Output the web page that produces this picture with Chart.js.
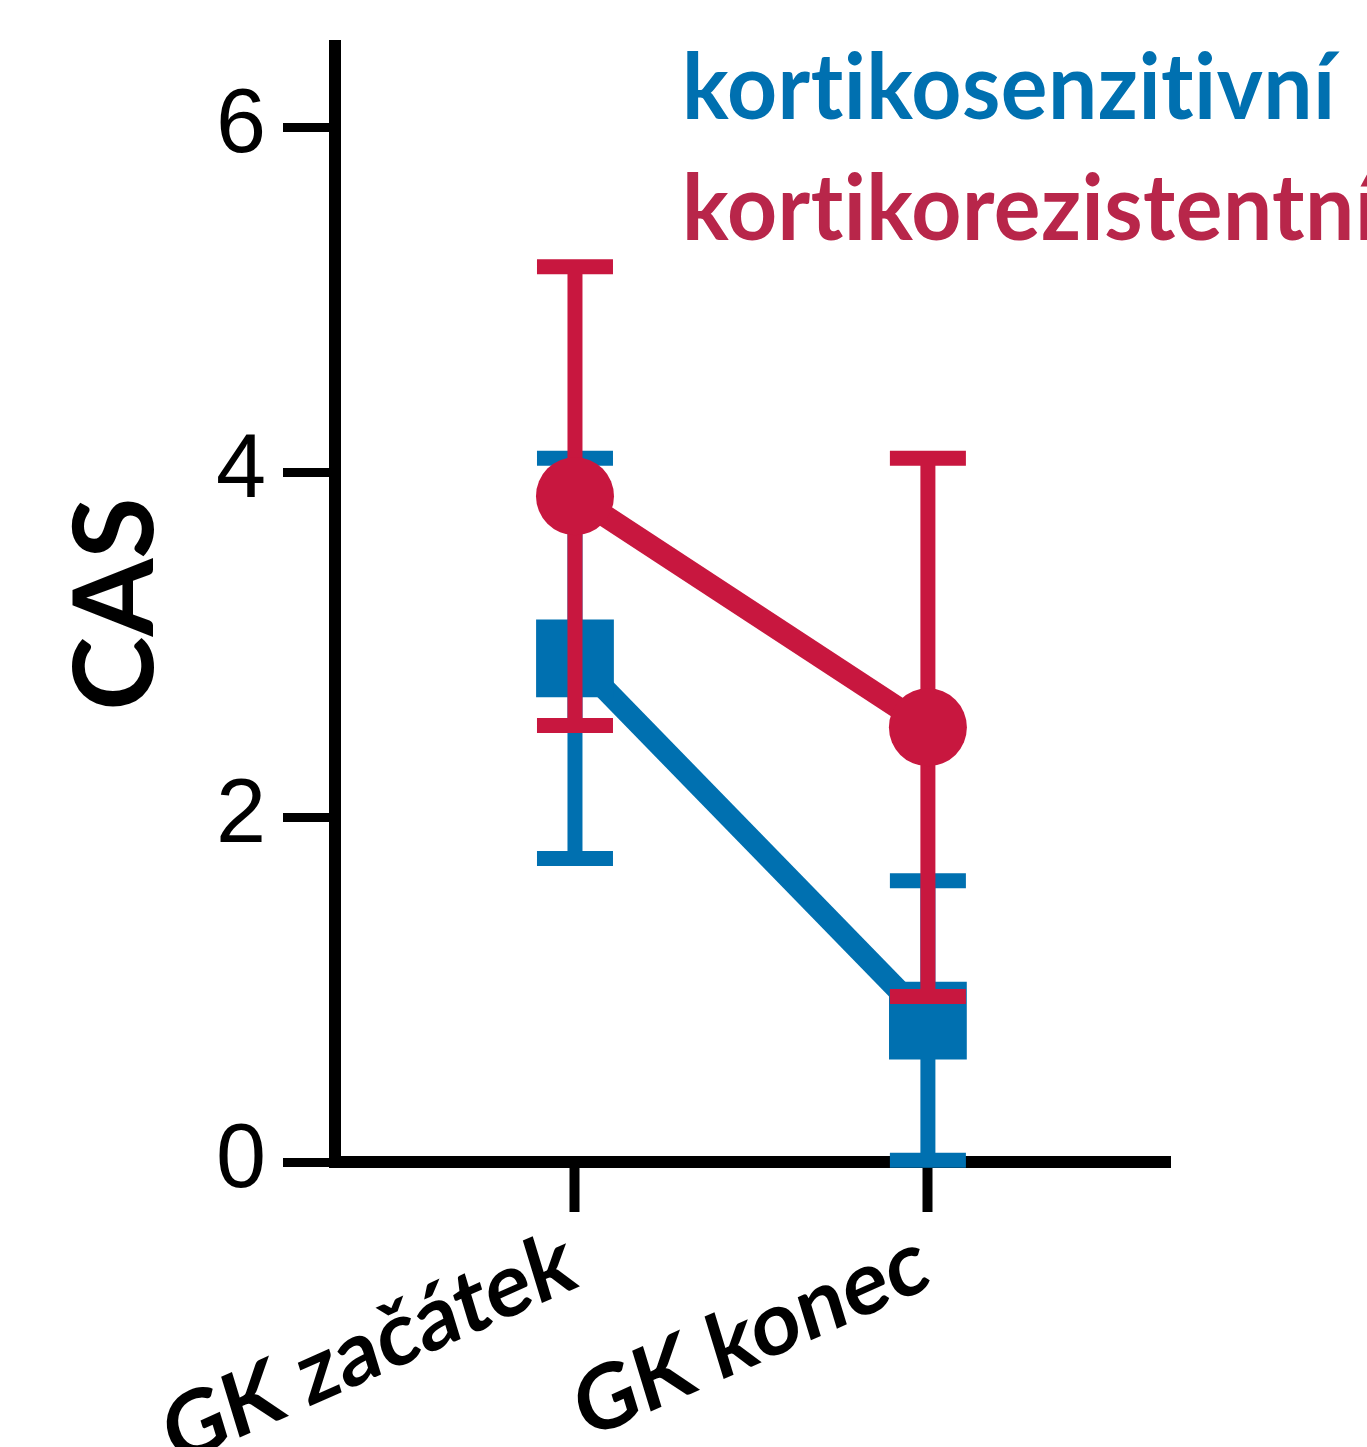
<!DOCTYPE html>
<html>
<head>
<meta charset="utf-8">
<script src="https://cdn.jsdelivr.net/npm/chart.js@4/dist/chart.umd.min.js"></script>
<style>
  html, body { margin: 0; padding: 0; background: #ffffff; }
  #wrap { width: 1367px; height: 1447px; position: relative; }
</style>
</head>
<body>
<div id="wrap"><canvas id="c" width="1367" height="1447"></canvas></div>
<script>
// Categories (time points) and their positions on the x scale
const categories = ['GK začátek', 'GK konec'];
const categoryPos = [1, 2];

// Y axis ticks
const yTicks = [0, 2, 4, 6];

// Series names
const seriesNames = ['kortikosenzitivní', 'kortikorezistentní'];

// Mean CAS and standard deviation per series
const sensitiveMean = [2.92, 0.82];
const sensitiveSD = [1.16, 0.81];
const resistantMean = [3.86, 2.52];
const resistantSD = [1.33, 1.56];

const BLUE = '#0070b0';
const RED = '#c8173f';
const BLUE_TEXT = '#0070b0';
const RED_TEXT = '#b8264a';
const LABEL_FONT = 'Lato, "Open Sans", sans-serif';

const toPoints = (means) => means.map((m, i) => ({ x: categoryPos[i], y: m }));

// Vertical error bars with caps, drawn just before each dataset so layering follows dataset order
const errorBars = {
  id: 'errorBars',
  beforeDatasetDraw(chart, args) {
    const ds = chart.data.datasets[args.index];
    if (!ds.errors) return;
    const xs = chart.scales.x, ys = chart.scales.y, ctx = chart.ctx;
    const half = 38;
    ctx.save();
    ctx.strokeStyle = ds.borderColor;
    ctx.lineWidth = 15;
    ctx.lineCap = 'butt';
    ds.data.forEach((p, i) => {
      const px = xs.getPixelForValue(p.x);
      const top = ys.getPixelForValue(p.y + ds.errors[i]);
      const bot = ys.getPixelForValue(p.y - ds.errors[i]);
      ctx.beginPath();
      ctx.moveTo(px, top); ctx.lineTo(px, bot);
      ctx.moveTo(px - half, top); ctx.lineTo(px + half, top);
      ctx.moveTo(px - half, bot); ctx.lineTo(px + half, bot);
      ctx.stroke();
    });
    ctx.restore();
  }
};

// Coloured series names in the upper right, and slanted category labels under the x axis
const textLabels = {
  id: 'textLabels',
  afterDraw(chart) {
    const ctx = chart.ctx;
    const xs = chart.scales.x;

    // series names
    const legendColors = [BLUE_TEXT, RED_TEXT];
    ctx.save();
    ctx.font = 'bold 92px ' + LABEL_FONT;
    ctx.textRendering = 'optimizeSpeed';
    ctx.letterSpacing = '0.5px';
    ctx.textAlign = 'left';
    ctx.textBaseline = 'alphabetic';
    seriesNames.forEach((name, i) => {
      ctx.save();
      ctx.translate(682, 119 + i * 121);
      ctx.scale(0.95, 1);
      ctx.fillStyle = legendColors[i];
      ctx.fillText(name, 0, 0);
      ctx.restore();
    });
    ctx.restore();

    // category labels: rotated baseline with slightly less slanted strokes
    const a = 24 * Math.PI / 180, b = 17 * Math.PI / 180;
    ctx.save();
    ctx.font = 'bold 88px ' + LABEL_FONT;
    ctx.fillStyle = '#000';
    ctx.textAlign = 'right';
    ctx.textBaseline = 'alphabetic';
    categories.forEach((label, i) => {
      const px = xs.getPixelForValue(categoryPos[i]);
      ctx.save();
      ctx.translate(px + 5, 1286);
      ctx.transform(Math.cos(a), -Math.sin(a), Math.sin(b), Math.cos(b), 0, 0);
      ctx.fillText(label, 0, 0);
      ctx.restore();
    });
    ctx.restore();
  }
};

new Chart(document.getElementById('c'), {
  type: 'line',
  data: {
    datasets: [
      {
        label: seriesNames[1],
        data: toPoints(resistantMean),
        errors: resistantSD,
        borderColor: RED,
        backgroundColor: RED,
        borderWidth: 22,
        pointStyle: 'circle',
        pointRadius: 39,
        pointBorderWidth: 0,
        pointBackgroundColor: RED,
        order: 0,
        clip: false
      },
      {
        label: seriesNames[0],
        data: toPoints(sensitiveMean),
        errors: sensitiveSD,
        borderColor: BLUE,
        backgroundColor: BLUE,
        borderWidth: 22,
        pointStyle: 'rect',
        pointRadius: 55,
        pointBorderWidth: 0,
        pointBackgroundColor: BLUE,
        order: 1,
        clip: false
      }
    ]
  },
  options: {
    responsive: false,
    animation: false,
    devicePixelRatio: 1,
    layout: { autoPadding: false, padding: { top: 46, right: 197, left: 0, bottom: 0 } },
    plugins: { legend: { display: false }, tooltip: { enabled: false } },
    scales: {
      x: {
        type: 'linear',
        min: 0.32,
        max: 2.686,
        afterBuildTicks: (s) => { s.ticks = categoryPos.map(v => ({ value: v })); },
        afterFit: (s) => { s.height = 285; },
        ticks: { display: false },
        grid: { drawOnChartArea: false, drawTicks: true, tickLength: 50, tickWidth: 10, tickColor: '#000' },
        border: { display: true, width: 12, color: '#000' }
      },
      y: {
        type: 'linear',
        min: 0,
        max: 6.47,
        afterBuildTicks: (s) => { s.ticks = yTicks.map(v => ({ value: v })); },
        afterFit: (s) => { s.width = 335; },
        ticks: {
          color: '#000',
          padding: 17,
          font: { family: '"Liberation Sans", Arial, sans-serif', size: 90, weight: 'normal', lineHeight: 0.5 }
        },
        grid: { drawOnChartArea: false, drawTicks: true, tickLength: 52, tickWidth: 9, tickColor: '#000' },
        border: { display: true, width: 12, color: '#000' },
        title: {
          display: true,
          text: 'CAS',
          color: '#000',
          font: { family: LABEL_FONT, size: 112, weight: 'bold', lineHeight: 1 },
          padding: { top: 61, bottom: 0 }
        }
      }
    }
  },
  plugins: [errorBars, textLabels]
});
</script>
</body>
</html>
